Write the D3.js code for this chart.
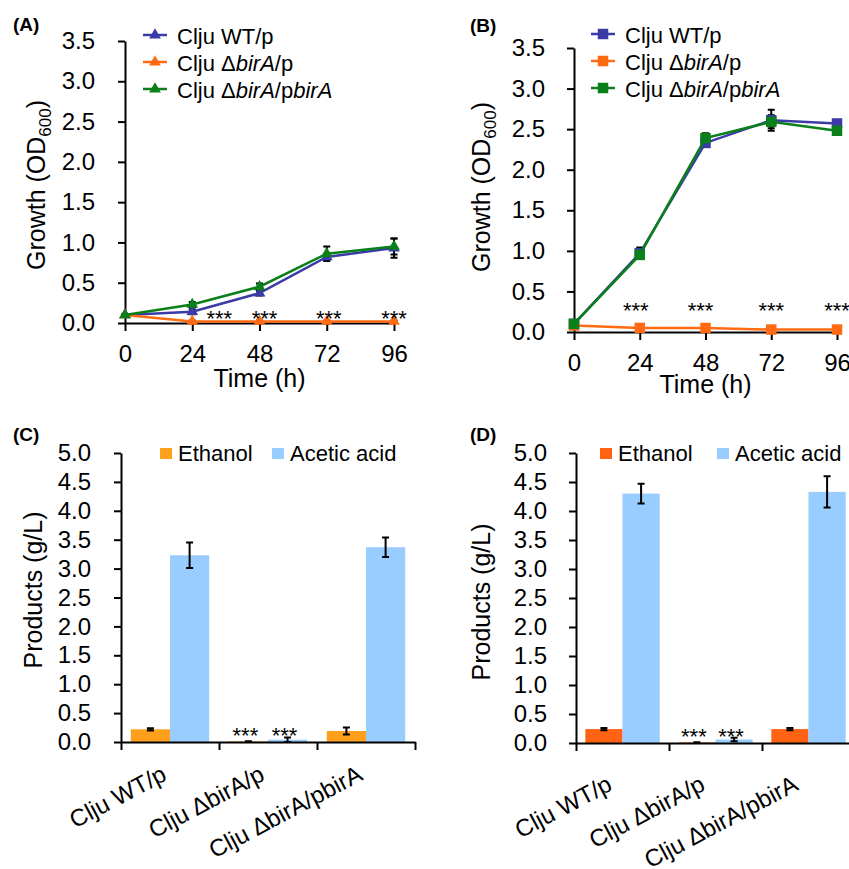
<!DOCTYPE html>
<html>
<head>
<meta charset="utf-8">
<script src="https://cdn.jsdelivr.net/npm/d3@7.9.0/dist/d3.min.js"></script>
<style>
  body { margin: 0; background: #fff; }
  svg { display: block; font-family: "Liberation Sans", Arial, sans-serif; }
</style>
</head>
<body>
<svg width="849" height="869"></svg>
<script>
// ---- data ----
const hours = [0, 24, 48, 72, 96];
const strains = ['Clju WT/p', 'Clju ΔbirA/p', 'Clju ΔbirA/pbirA'];
const lineColors = ['#3b3ba8', '#ff6a12', '#0a7f1a'];
const growthTicks = [0, 0.5, 1, 1.5, 2, 2.5, 3, 3.5];

// panel A (triangles)
const growthA = [
  [0.10, 0.14, 0.37, 0.82, 0.93],
  [0.10, 0.02, 0.02, 0.02, 0.02],
  [0.10, 0.23, 0.45, 0.86, 0.95]
];
const growthErrA = [
  [0.01, 0.03, 0.03, 0.04, 0.12],
  [0.01, 0.01, 0.01, 0.01, 0.01],
  [0.01, 0.03, 0.04, 0.09, 0.10]
];
// panel B (squares)
const growthB = [
  [0.10, 0.97, 2.33, 2.61, 2.57],
  [0.08, 0.05, 0.05, 0.03, 0.03],
  [0.10, 0.95, 2.39, 2.59, 2.48]
];
const growthErrB = [
  [0.01, 0.07, 0.05, 0.13, 0.04],
  [0.01, 0.01, 0.01, 0.01, 0.01],
  [0.01, 0.05, 0.06, 0.08, 0.05]
];

const products = ['Ethanol', 'Acetic acid'];
const productTicks = [0, 0.5, 1, 1.5, 2, 2.5, 3, 3.5, 4, 4.5, 5];
// panel C
const ethanolC = [0.22, 0.01, 0.19];
const ethanolErrC = [0.02, 0.005, 0.06];
const aceticC = [3.23, 0.04, 3.37];
const aceticErrC = [0.22, 0.04, 0.17];
// panel D
const ethanolD = [0.24, 0.01, 0.24];
const ethanolErrD = [0.02, 0.005, 0.02];
const aceticD = [4.30, 0.06, 4.33];
const aceticErrD = [0.17, 0.03, 0.27];

const svg = d3.select('svg');

function styleAxis(g) {
  g.attr('font-family', null).attr('font-size', 24);
  g.select('.domain').attr('stroke-width', 2);
  g.selectAll('.tick line').attr('stroke-width', 2);
  g.selectAll('.tick text').attr('fill', '#000');
}

// writes a strain name, optionally with the gene name in italics
function strainText(sel, name, italic) {
  name.split(/(birA)/).filter(s => s).forEach(part => {
    sel.append('tspan')
      .attr('font-style', italic && part === 'birA' ? 'italic' : null)
      .text(part);
  });
}

function panelLetter(letter, x, y) {
  svg.append('text').attr('x', x).attr('y', y)
    .attr('font-size', 19).attr('font-weight', 'bold').text(`(${letter})`);
}

function drawGrowth(cfg) {
  const g = svg.append('g');
  const x = d3.scaleLinear().domain([0, 96]).range([cfg.left, cfg.right]);
  const y = d3.scaleLinear().domain([0, 3.5]).range([cfg.bottom, cfg.top]);

  g.append('g').attr('transform', `translate(${cfg.left},0)`)
    .call(d3.axisLeft(y).tickValues(growthTicks).tickFormat(d3.format('.1f'))
      .tickSize(7).tickSizeOuter(0).tickPadding(cfg.yPad))
    .call(styleAxis);
  g.append('g').attr('transform', `translate(0,${cfg.bottom})`)
    .call(d3.axisBottom(x).tickValues(hours).tickSize(8).tickSizeOuter(0).tickPadding(14))
    .call(styleAxis);

  // axis titles
  const yt = g.append('text')
    .attr('transform', `translate(${cfg.yTitleX},${cfg.yTitleY}) rotate(-90)`)
    .attr('text-anchor', 'middle').attr('font-size', 25);
  yt.append('tspan').text('Growth (OD');
  yt.append('tspan').attr('font-size', 17).attr('dy', 6).text('600');
  yt.append('tspan').attr('dy', -6).text(')');
  g.append('text').attr('x', (cfg.left + cfg.right) / 2).attr('y', cfg.xTitleY)
    .attr('text-anchor', 'middle').attr('font-size', 25).text('Time (h)');

  const symbol = d3.symbol().type(cfg.symbol).size(cfg.symbolSize);
  const line = d3.line().x((d, i) => x(hours[i])).y(d => y(d));

  // error bars
  cfg.data.forEach((series, s) => {
    series.forEach((v, i) => {
      const e = cfg.err[s][i];
      const cx = x(hours[i]);
      g.append('path')
        .attr('d', `M${cx},${y(v - e)}V${y(v + e)}M${cx - 3.5},${y(v - e)}h7M${cx - 3.5},${y(v + e)}h7`)
        .attr('stroke', '#000').attr('stroke-width', 2).attr('fill', 'none');
    });
  });

  cfg.data.forEach((series, s) => {
    g.append('path').datum(series).attr('d', line)
      .attr('fill', 'none').attr('stroke', lineColors[s]).attr('stroke-width', 2.5);
    g.selectAll(null).data(series).join('path')
      .attr('transform', (d, i) => `translate(${x(hours[i])},${y(d)})`)
      .attr('d', symbol).attr('fill', lineColors[s]);
  });

  // significance marks
  hours.slice(1).forEach((h, i) => {
    g.append('text').attr('x', x(h) + cfg.starOffsets[i]).attr('y', cfg.starY)
      .attr('text-anchor', 'middle').attr('font-size', 22).text('***');
  });

  // legend
  strains.forEach((name, s) => {
    const ly = cfg.legendY + s * 27;
    g.append('line').attr('x1', cfg.legendX).attr('x2', cfg.legendX + 24)
      .attr('y1', ly).attr('y2', ly)
      .attr('stroke', lineColors[s]).attr('stroke-width', 2.5);
    g.append('path').attr('transform', `translate(${cfg.legendX + 12},${ly})`)
      .attr('d', symbol).attr('fill', lineColors[s]);
    const t = g.append('text').attr('x', cfg.legendX + 34).attr('y', ly + 9).attr('font-size', 22);
    strainText(t, name, true);
  });
}

function drawProducts(cfg) {
  const g = svg.append('g');
  const x = d3.scaleBand().domain(strains).range([cfg.left, cfg.right]);
  const xEdges = d3.scaleLinear().domain([0, strains.length]).range([cfg.left, cfg.right]);
  const sub = d3.scaleBand().domain(products)
    .range([0, x.bandwidth()]).paddingOuter(0.25).paddingInner(0);
  const y = d3.scaleLinear().domain([0, 5]).range([cfg.bottom, cfg.top]);
  const colors = [cfg.ethanolColor, '#99ccff'];
  const values = [cfg.ethanol, cfg.acetic];
  const errs = [cfg.ethanolErr, cfg.aceticErr];

  g.append('g').attr('transform', `translate(${cfg.left},0)`)
    .call(d3.axisLeft(y).tickValues(productTicks).tickFormat(d3.format('.1f'))
      .tickSize(7).tickSizeOuter(0).tickPadding(cfg.yPad))
    .call(styleAxis);

  products.forEach((p, k) => {
    strains.forEach((st, i) => {
      const bx = x(st) + sub(p);
      g.append('rect').attr('x', bx).attr('width', sub.bandwidth())
        .attr('y', y(values[k][i])).attr('height', cfg.bottom - y(values[k][i]))
        .attr('fill', colors[k]);
      const cx = bx + sub.bandwidth() / 2;
      const lo = y(values[k][i] - errs[k][i]), hi = y(values[k][i] + errs[k][i]);
      g.append('path').attr('d', `M${cx},${lo}V${hi}M${cx - 3.5},${lo}h7M${cx - 3.5},${hi}h7`)
        .attr('stroke', '#000').attr('stroke-width', 2).attr('fill', 'none');
      if (i === 1) {
        g.append('text').attr('x', cx - 3).attr('y', cfg.bottom + 1)
          .attr('text-anchor', 'middle').attr('font-size', 22).text('***');
      }
    });
  });

  g.append('g').attr('transform', `translate(0,${cfg.bottom})`)
    .call(d3.axisBottom(xEdges).tickValues([0, 1, 2, 3]).tickFormat('').tickSize(8).tickSizeOuter(0))
    .call(styleAxis);

  strains.forEach(st => {
    const t = g.append('text')
      .attr('transform', `translate(${x(st) + x.bandwidth() / 2 + cfg.labelDx},${cfg.labelY}) rotate(-28)`)
      .attr('text-anchor', 'end').attr('dy', '0.72em').attr('font-size', 24);
    strainText(t, st, false);
  });

  g.append('text')
    .attr('transform', `translate(${cfg.yTitleX},${cfg.yTitleY}) rotate(-90)`)
    .attr('text-anchor', 'middle').attr('font-size', 25).text('Products (g/L)');

  // legend
  products.forEach((p, k) => {
    const lx = cfg.legendX[k];
    g.append('rect').attr('x', lx).attr('y', cfg.legendY - 5).attr('width', 12).attr('height', 11)
      .attr('fill', colors[k]);
    g.append('text').attr('x', lx + 18).attr('y', cfg.legendY + 8).attr('font-size', 22).text(p);
  });
}

drawGrowth({
  left: 125, right: 394, top: 41, bottom: 323, yPad: 23,
  data: growthA, err: growthErrA, symbol: d3.symbolTriangle, symbolSize: 60,
  yTitleX: 45, yTitleY: 185, xTitleY: 387,
  starY: 326, starOffsets: [27, 5, 2, 0],
  legendX: 143, legendY: 35
});
drawGrowth({
  left: 574, right: 837, top: 48, bottom: 332, yPad: 22,
  data: growthB, err: growthErrB, symbol: d3.symbolSquare, symbolSize: 110,
  yTitleX: 490, yTitleY: 187, xTitleY: 393,
  starY: 318, starOffsets: [-4, -5, 0, 0],
  legendX: 591, legendY: 34
});
drawProducts({
  left: 121, right: 415, top: 453, bottom: 742, yPad: 23,
  ethanol: ethanolC, ethanolErr: ethanolErrC, acetic: aceticC, aceticErr: aceticErrC,
  ethanolColor: '#ffa01c', yTitleX: 42, yTitleY: 590,
  labelDx: -10, labelY: 764, legendX: [160, 272], legendY: 453
});
drawProducts({
  left: 576, right: 855, top: 453, bottom: 743, yPad: 22,
  ethanol: ethanolD, ethanolErr: ethanolErrD, acetic: aceticD, aceticErr: aceticErrD,
  ethanolColor: '#ff6313', yTitleX: 490, yTitleY: 602,
  labelDx: -17, labelY: 774, legendX: [600, 717], legendY: 453
});

panelLetter('A', 13, 31);
panelLetter('B', 470, 32);
panelLetter('C', 13, 441);
panelLetter('D', 470, 441);
</script>
</body>
</html>
